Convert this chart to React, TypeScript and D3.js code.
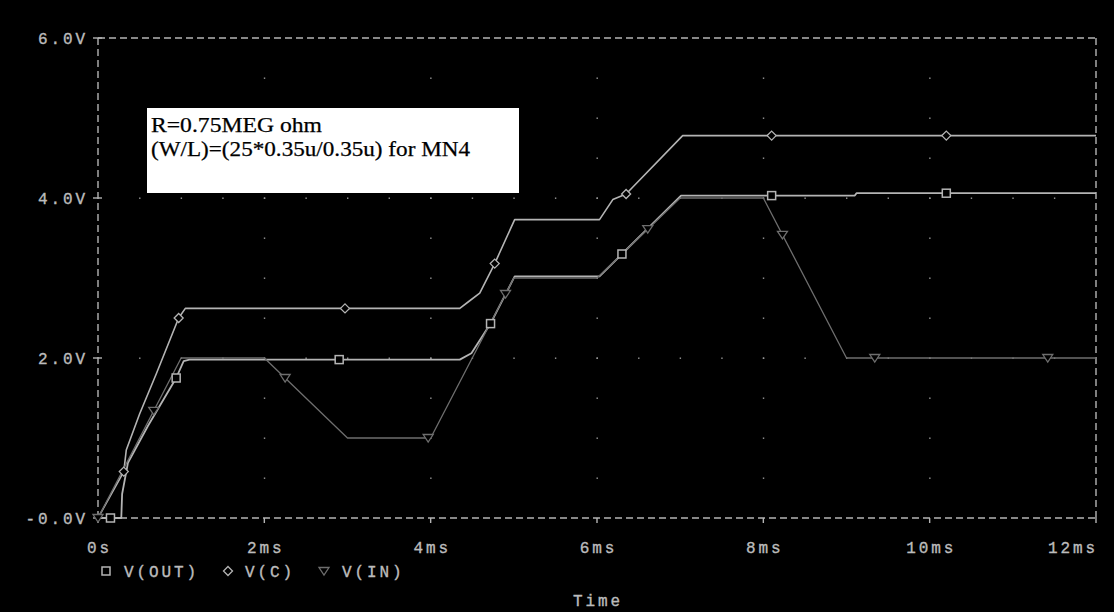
import React from "react";
import * as d3 from "d3";

// Transient simulation traces (time in ms, voltage in V)
const outTime = [0, 0.28, 0.29, 0.36, 0.6, 0.94, 1.03, 1.1, 4.35, 4.49, 4.72, 5.01, 6.03, 6.3, 7.01, 9.1, 9.12, 12];
const outVolt = [0, 0, 0.3, 0.69, 1.15, 1.75, 1.96, 1.98, 1.98, 2.06, 2.43, 3.02, 3.02, 3.3, 4.03, 4.03, 4.06, 4.06];

const cTime = [0, 0.31, 0.34, 0.5, 0.7, 0.97, 1.05, 4.35, 4.45, 4.59, 4.77, 5.01, 6.03, 6.19, 6.35, 7.03, 12];
const cVolt = [0, 0.58, 0.85, 1.3, 1.8, 2.5, 2.62, 2.62, 2.7, 2.81, 3.18, 3.73, 3.73, 3.98, 4.05, 4.78, 4.78];

const inTime = [0, 1, 2, 3, 4, 5, 6, 7, 8, 9, 12];
const inVolt = [0, 2, 2, 1, 1, 3, 3, 4, 4, 2, 2];

// Where each trace carries its symbol
const outMarks = [0.15, 0.94, 2.9, 4.72, 6.3, 8.1, 10.2];
const cMarks = [0.31, 0.97, 2.97, 4.77, 6.35, 8.1, 10.2];
const inMarks = [0, 0.67, 2.25, 3.97, 4.9, 6.61, 8.23, 9.34, 11.42];

const xTicks = [0, 2, 4, 6, 8, 10, 12];
const xTickLabels = ["0s", "2ms", "4ms", "6ms", "8ms", "10ms", "12ms"];
const yTicks = [0, 2, 4, 6];
const yTickLabels = ["-0.0V", "2.0V", "4.0V", "6.0V"];

const legendNames = ["V(OUT)", "V(C)", "V(IN)"];
const noteLines = ["R=0.75MEG ohm", "(W/L)=(25*0.35u/0.35u) for MN4"];

const W = 1114;
const H = 612;
const BRIGHT = "#b4b4b4";
const DIM = "#6e6e6e";
const TEXT = "#bcbcbc";
const MONO = "'Liberation Mono', 'DejaVu Sans Mono', monospace";

const x = d3.scaleLinear().domain([0, 12]).range([98, 1096]);
const y = d3.scaleLinear().domain([0, 6]).range([518, 38]);

function valueAt(ts: number[], vs: number[], t: number): number {
  const i = d3.bisectRight(ts, t);
  if (i <= 0) return vs[0];
  if (i >= ts.length) return vs[vs.length - 1];
  const t0 = ts[i - 1], t1 = ts[i];
  const f = t1 === t0 ? 0 : (t - t0) / (t1 - t0);
  return vs[i - 1] + f * (vs[i] - vs[i - 1]);
}

type Shape = "square" | "diamond" | "triangle";

function Marker({ cx, cy, shape, color }: { cx: number; cy: number; shape: Shape; color: string }) {
  if (shape === "square") {
    return <rect x={cx - 4} y={cy - 4} width={8} height={8} fill="#000" stroke={color} strokeWidth={1.5} />;
  }
  if (shape === "diamond") {
    return (
      <path
        d={`M${cx},${cy - 4.5}L${cx + 4.5},${cy}L${cx},${cy + 4.5}L${cx - 4.5},${cy}Z`}
        fill="#000"
        stroke={color}
        strokeWidth={1.3}
      />
    );
  }
  return (
    <path
      d={`M${cx - 5},${cy - 3.5}L${cx + 5},${cy - 3.5}L${cx},${cy + 4}Z`}
      fill="#000"
      stroke={color}
      strokeWidth={1.3}
    />
  );
}

export default function App() {
  const line = d3
    .line<[number, number]>()
    .x((d) => x(d[0]))
    .y((d) => y(d[1]));

  const series = [
    { ts: outTime, vs: outVolt, marks: outMarks, shape: "square" as Shape, color: BRIGHT, width: 1.8 },
    { ts: cTime, vs: cVolt, marks: cMarks, shape: "diamond" as Shape, color: BRIGHT, width: 1.6 },
    { ts: inTime, vs: inVolt, marks: inMarks, shape: "triangle" as Shape, color: DIM, width: 1.3 },
  ];

  // Dotted grid: points along each major time line and each major voltage line
  const dots: [number, number][] = [];
  for (const t of [2, 4, 6, 8, 10]) {
    for (let v = 0.5; v < 6; v += 0.5) dots.push([x(t), y(v)]);
  }
  for (const v of [2, 4]) {
    for (let t = 0.5; t < 12; t += 0.5) dots.push([x(t), y(v)]);
  }

  const x0 = x(0), x1 = x(12), y0 = y(0), y1 = y(6);

  return (
    <svg
      width={W}
      height={H}
      style={{ position: "fixed", left: 0, top: 0, background: "#000", display: "block" }}
    >
      <rect x={0} y={0} width={W} height={H} fill="#000" />

      {dots.map(([dx, dy], i) => (
        <rect key={i} x={dx - 0.5} y={dy - 0.5} width={1.4} height={1.4} fill="#9a9a9a" />
      ))}

      {/* dashed frame */}
      <g stroke={BRIGHT} strokeWidth={1.4} strokeDasharray="7,4" fill="none">
        <line x1={x0} y1={y0} x2={x1} y2={y0} />
        <line x1={x0} y1={y1} x2={x1} y2={y1} />
        <line x1={x0} y1={y0} x2={x0} y2={y1} />
        <line x1={x1} y1={y0} x2={x1} y2={y1} />
      </g>

      {/* axis ticks */}
      <g stroke={BRIGHT} strokeWidth={1.4}>
        {yTicks.map((v) => (
          <line key={v} x1={x0 - 5} x2={x0 + 4} y1={y(v)} y2={y(v)} />
        ))}
        {xTicks.map((t) => (
          <line key={t} x1={x(t)} x2={x(t)} y1={y0} y2={y0 + 5} />
        ))}
      </g>

      {/* traces */}
      {series.map((s, i) => (
        <path
          key={i}
          d={line(s.ts.map((t, j) => [t, s.vs[j]] as [number, number])) || ""}
          fill="none"
          stroke={s.color}
          strokeWidth={s.width}
          strokeLinejoin="round"
        />
      ))}
      {series.map((s, i) =>
        s.marks.map((t, j) => (
          <Marker key={`${i}-${j}`} cx={x(t)} cy={y(valueAt(s.ts, s.vs, t))} shape={s.shape} color={s.color} />
        ))
      )}

      {/* tick labels */}
      <g fill={TEXT} stroke={TEXT} strokeWidth={0.35} fontFamily={MONO} fontSize={16} letterSpacing={2.9}>
        {yTicks.map((v, i) => (
          <text key={v} x={88} y={y(v) + 6} textAnchor="end">
            {yTickLabels[i]}
          </text>
        ))}
        {xTicks.map((t, i) => (
          <text
            key={t}
            x={i === xTicks.length - 1 ? x(t) + 2 : x(t) + 1.5}
            y={553}
            textAnchor={i === xTicks.length - 1 ? "end" : "middle"}
          >
            {xTickLabels[i]}
          </text>
        ))}
        <text x={598} y={606} textAnchor="middle">Time</text>
      </g>

      {/* legend */}
      <g fontFamily={MONO} fontSize={16} letterSpacing={2.9} fill={TEXT}>
        <Marker cx={106} cy={571} shape="square" color={BRIGHT} />
        <text x={124} y={577} stroke={TEXT} strokeWidth={0.35}>{legendNames[0]}</text>
        <Marker cx={228} cy={571} shape="diamond" color={BRIGHT} />
        <text x={245} y={577} stroke={TEXT} strokeWidth={0.35}>{legendNames[1]}</text>
        <Marker cx={324} cy={571} shape="triangle" color={DIM} />
        <text x={342} y={577} stroke={TEXT} strokeWidth={0.35}>{legendNames[2]}</text>
      </g>

      {/* annotation box */}
      <rect x={147} y={108} width={372} height={85} fill="#fff" />
      <g fill="#000" stroke="#000" strokeWidth={0.25} fontFamily="'Liberation Serif', 'Times New Roman', serif" fontSize={21}>
        <text x={151} y={132} textLength={171} lengthAdjust="spacingAndGlyphs">{noteLines[0]}</text>
        <text x={151} y={156} textLength={319} lengthAdjust="spacingAndGlyphs">{noteLines[1]}</text>
      </g>
    </svg>
  );
}
